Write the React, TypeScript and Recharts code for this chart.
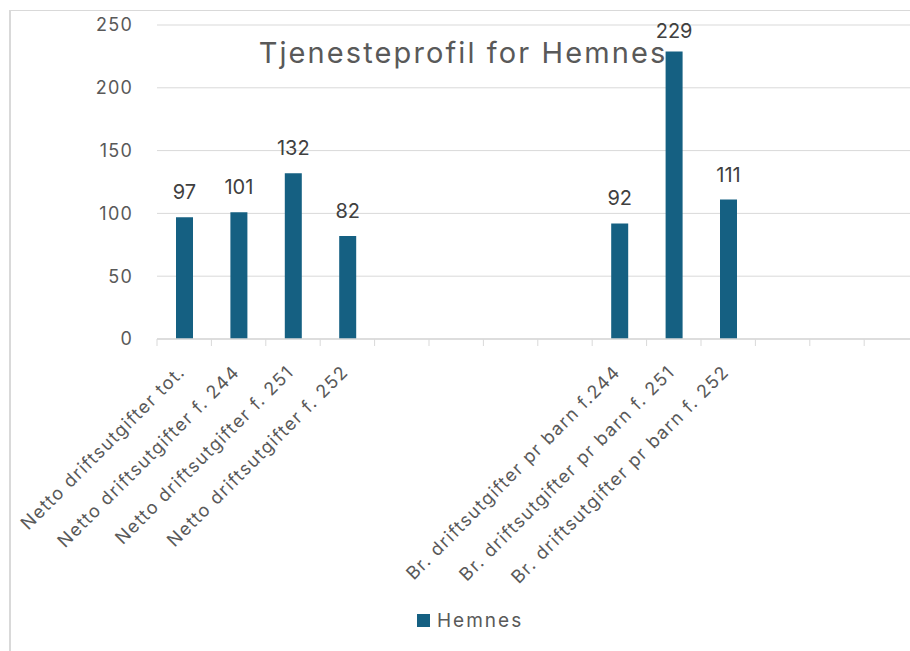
import React from 'react';
import { BarChart, Bar, XAxis, YAxis, CartesianGrid, LabelList, Legend } from 'recharts';

const categories: string[] = [
  'Netto driftsutgifter tot.',
  'Netto driftsutgifter f. 244',
  'Netto driftsutgifter f. 251',
  'Netto driftsutgifter f. 252',
  '',
  '',
  '',
  '',
  'Br. driftsutgifter pr barn f.244',
  'Br. driftsutgifter pr barn f. 251',
  'Br. driftsutgifter pr barn f. 252',
  '',
  '',
  '',
];
const hemnesValues: (number | null)[] = [97, 101, 132, 82, null, null, null, null, 92, 229, 111, null, null, null];
const yTicks = [0, 50, 100, 150, 200, 250];
const seriesName = 'Hemnes';
const chartTitle = 'Tjenesteprofil for Hemnes';

const data = categories.map((label, i) => ({ key: String(i), label, Hemnes: hemnesValues[i] }));

const FONT = 'Inter, Roboto, "Noto Sans", sans-serif';
const BAR = '#156082';
const GRID = '#d9d9d9';
const TXT = '#595959';

function XTick(props: any) {
  const { x, y, payload } = props;
  const idx = Number(payload.value);
  const label = categories[idx];
  const half = payload.offset != null ? payload.offset : 27.2;
  return (
    <g>
      <line x1={x - half} x2={x - half} y1={y} y2={y + 7} stroke={GRID} strokeWidth={1} />
      {label ? (
        <text
          transform={`translate(${x + 2},${y + 34}) rotate(-45)`}
          textAnchor="end"
          fill={TXT}
          fontSize={18}
          fontFamily={FONT}
          letterSpacing={1.4}
        >
          {label}
        </text>
      ) : null}
    </g>
  );
}

function BarValueLabel(props: any) {
  const { x, y, width, value } = props;
  if (value == null || value === '') return null;
  // keep the label inside the plot area, as the original does for the tallest bar
  const baseline = Math.max(Number(y) - 18, 38);
  return (
    <text x={Number(x) + Number(width) / 2} y={baseline} textAnchor="middle" fill="#404040" fontSize={20} fontFamily={FONT}>
      {value}
    </text>
  );
}

function LegendContent() {
  return (
    <div style={{ display: 'flex', alignItems: 'center', fontFamily: FONT }}>
      <span style={{ display: 'inline-block', width: 13, height: 13, background: BAR, marginRight: 7 }} />
      <span style={{ fontSize: 19, color: TXT, letterSpacing: 2, lineHeight: '22px' }}>{seriesName}</span>
    </div>
  );
}

export default function App() {
  return (
    <div style={{ position: 'fixed', left: 0, top: 0, width: 910, height: 651, overflow: 'hidden', background: '#fff' }}>
      <div
        style={{
          position: 'absolute',
          left: 9,
          top: 10,
          width: 1000,
          height: 1000,
          borderLeft: `2px solid ${GRID}`,
          borderTop: `1px solid ${GRID}`,
        }}
      />
      <div style={{ position: 'absolute', left: 0, top: 0 }}>
        <BarChart
          width={930}
          height={651}
          data={data}
          margin={{ top: 25, right: 11.4, bottom: 0, left: 97 }}
        >
          <CartesianGrid vertical={false} stroke={GRID} />
          <XAxis
            dataKey="key"
            type="category"
            interval={0}
            height={312}
            tickLine={false}
            tickSize={0}
            tickMargin={0}
            axisLine={{ stroke: GRID, strokeWidth: 1.3 }}
            tick={(p: any) => <XTick {...p} />}
          />
          <YAxis
            width={60}
            domain={[0, 250]}
            ticks={yTicks}
            axisLine={false}
            tickLine={false}
            tickSize={0}
            tickMargin={24}
            tick={{ fill: TXT, fontSize: 18, fontFamily: FONT, letterSpacing: 1.2 } as any}
          />
          <Legend
            layout="horizontal"
            verticalAlign="middle"
            align="center"
            wrapperStyle={{ left: 417, top: 609.5, width: 'auto' }}
            content={() => <LegendContent />}
          />
          <Bar dataKey="Hemnes" name={seriesName} fill={BAR} barSize={17} isAnimationActive={false}>
            <LabelList dataKey="Hemnes" content={(p: any) => <BarValueLabel {...p} />} />
          </Bar>
        </BarChart>
      </div>
      <svg width={910} height={651} style={{ position: 'absolute', left: 0, top: 0, pointerEvents: 'none' }}>
        <text x={463} y={63} textAnchor="middle" fill={TXT} fontSize={29} fontFamily={FONT} letterSpacing={2.1}>
          {chartTitle}
        </text>
      </svg>
    </div>
  );
}
